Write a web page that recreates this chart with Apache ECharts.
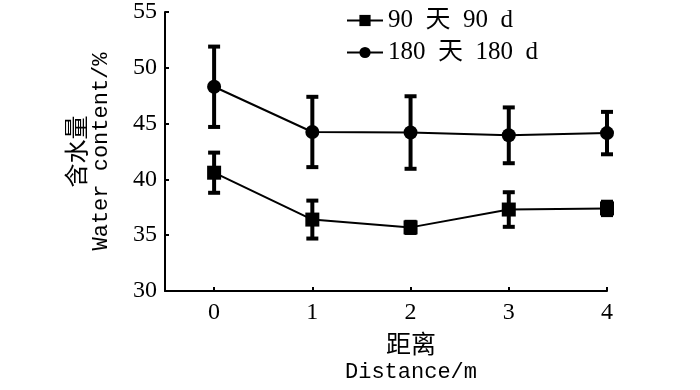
<!DOCTYPE html>
<html>
<head>
<meta charset="utf-8">
<script src="https://cdn.jsdelivr.net/npm/echarts@6/dist/echarts.min.js"></script>
<style>
  html, body { margin: 0; padding: 0; background: #fff; }
  #main { width: 700px; height: 390px; }
</style>
</head>
<body>
<div id="main"></div>
<script>
// distance positions (m)
var distances = [0, 1, 2, 3, 4];
var xTicks = [0, 1, 2, 3, 4];

// 90 d water content (%) and error (+/-)
var mean90 = [40.6, 36.4, 35.7, 37.3, 37.4];
var err90 = [1.8, 1.7, 0.5, 1.55, 0.6];

// 180 d water content (%) and error (+/-)
var mean180 = [48.3, 44.25, 44.2, 43.95, 44.15];
var err180 = [3.6, 3.15, 3.25, 2.5, 1.9];

var serif = "'Liberation Serif', 'Noto Sans CJK SC', serif";
var mono = "'Liberation Mono', 'Noto Sans CJK SC', monospace";

function pairs(ys) {
  return distances.map(function (x, i) { return [x, ys[i]]; });
}
function errData(ys, es) {
  return distances.map(function (x, i) { return [x, ys[i] - es[i], ys[i] + es[i]]; });
}

// 误差线
function renderErr(params, api) {
  var x = api.value(0);
  var lo = api.coord([x, api.value(1)]);
  var hi = api.coord([x, api.value(2)]);
  var w = 6;
  var style = { stroke: '#000', lineWidth: 4 };
  return {
    type: 'group',
    children: [
      { type: 'line', shape: { x1: lo[0], y1: lo[1], x2: hi[0], y2: hi[1] }, style: style },
      { type: 'line', shape: { x1: lo[0] - w, y1: lo[1], x2: lo[0] + w, y2: lo[1] }, style: style },
      { type: 'line', shape: { x1: hi[0] - w, y1: hi[1], x2: hi[0] + w, y2: hi[1] }, style: style }
    ]
  };
}

var chart = echarts.init(document.getElementById('main'), null, { renderer: 'canvas' });

var option = {
  animation: false,
  backgroundColor: '#fff',
  grid: { left: 165, right: 93, top: 12, bottom: 96, containLabel: false },
  legend: {
    orient: 'vertical',
    left: 341,
    top: 3,
    itemWidth: 36,
    itemHeight: 14,
    itemGap: 7,
    textStyle: { fontFamily: serif, fontSize: 25, color: '#000' },
    data: ['90  天  90  d', '180  天  180  d']
  },
  xAxis: {
    type: 'value',
    min: -0.5,
    max: 4,
    name: '{cn|距离}\nDistance/m',
    nameLocation: 'middle',
    nameGap: 42,
    nameTextStyle: {
      fontFamily: mono, fontSize: 22, color: '#000', lineHeight: 26,
      verticalAlign: 'top', padding: [0, 0, 0, 50],
      rich: { cn: { fontFamily: mono, fontSize: 25, lineHeight: 26 } }
    },
    axisLine: { onZero: false, lineStyle: { color: '#000', width: 2 } },
    axisTick: { inside: true, length: 4, lineStyle: { color: '#000', width: 2 }, customValues: xTicks },
    axisLabel: { fontFamily: serif, fontSize: 24, color: '#000', margin: 10, customValues: xTicks },
    splitLine: { show: false }
  },
  yAxis: {
    type: 'value',
    min: 30,
    max: 55,
    interval: 5,
    name: '{cn|含水量}\nWater content/%',
    nameLocation: 'middle',
    nameGap: 52,
    nameRotate: 90,
    nameTextStyle: {
      fontFamily: mono, fontSize: 22, color: '#000', lineHeight: 23,
      rich: { cn: { fontFamily: mono, fontSize: 24, lineHeight: 23 } }
    },
    axisLine: { onZero: false, lineStyle: { color: '#000', width: 2 } },
    axisTick: { inside: true, length: 4, lineStyle: { color: '#000', width: 2 } },
    axisLabel: { fontFamily: serif, fontSize: 24, color: '#000', margin: 8 },
    splitLine: { show: false }
  },
  series: [
    {
      name: '90  天  90  d',
      type: 'line',
      data: pairs(mean90),
      symbol: 'rect',
      symbolSize: 14,
      itemStyle: { color: '#000' },
      lineStyle: { color: '#000', width: 2 },
      z: 3
    },
    {
      name: '180  天  180  d',
      type: 'line',
      data: pairs(mean180),
      symbol: 'circle',
      symbolSize: 14,
      itemStyle: { color: '#000' },
      lineStyle: { color: '#000', width: 2 },
      z: 3
    },
    {
      type: 'custom',
      renderItem: renderErr,
      data: errData(mean90, err90),
      encode: { x: 0, y: [1, 2] },
      z: 2
    },
    {
      type: 'custom',
      renderItem: renderErr,
      data: errData(mean180, err180),
      encode: { x: 0, y: [1, 2] },
      z: 2
    }
  ]
};

chart.setOption(option);
</script>
</body>
</html>
